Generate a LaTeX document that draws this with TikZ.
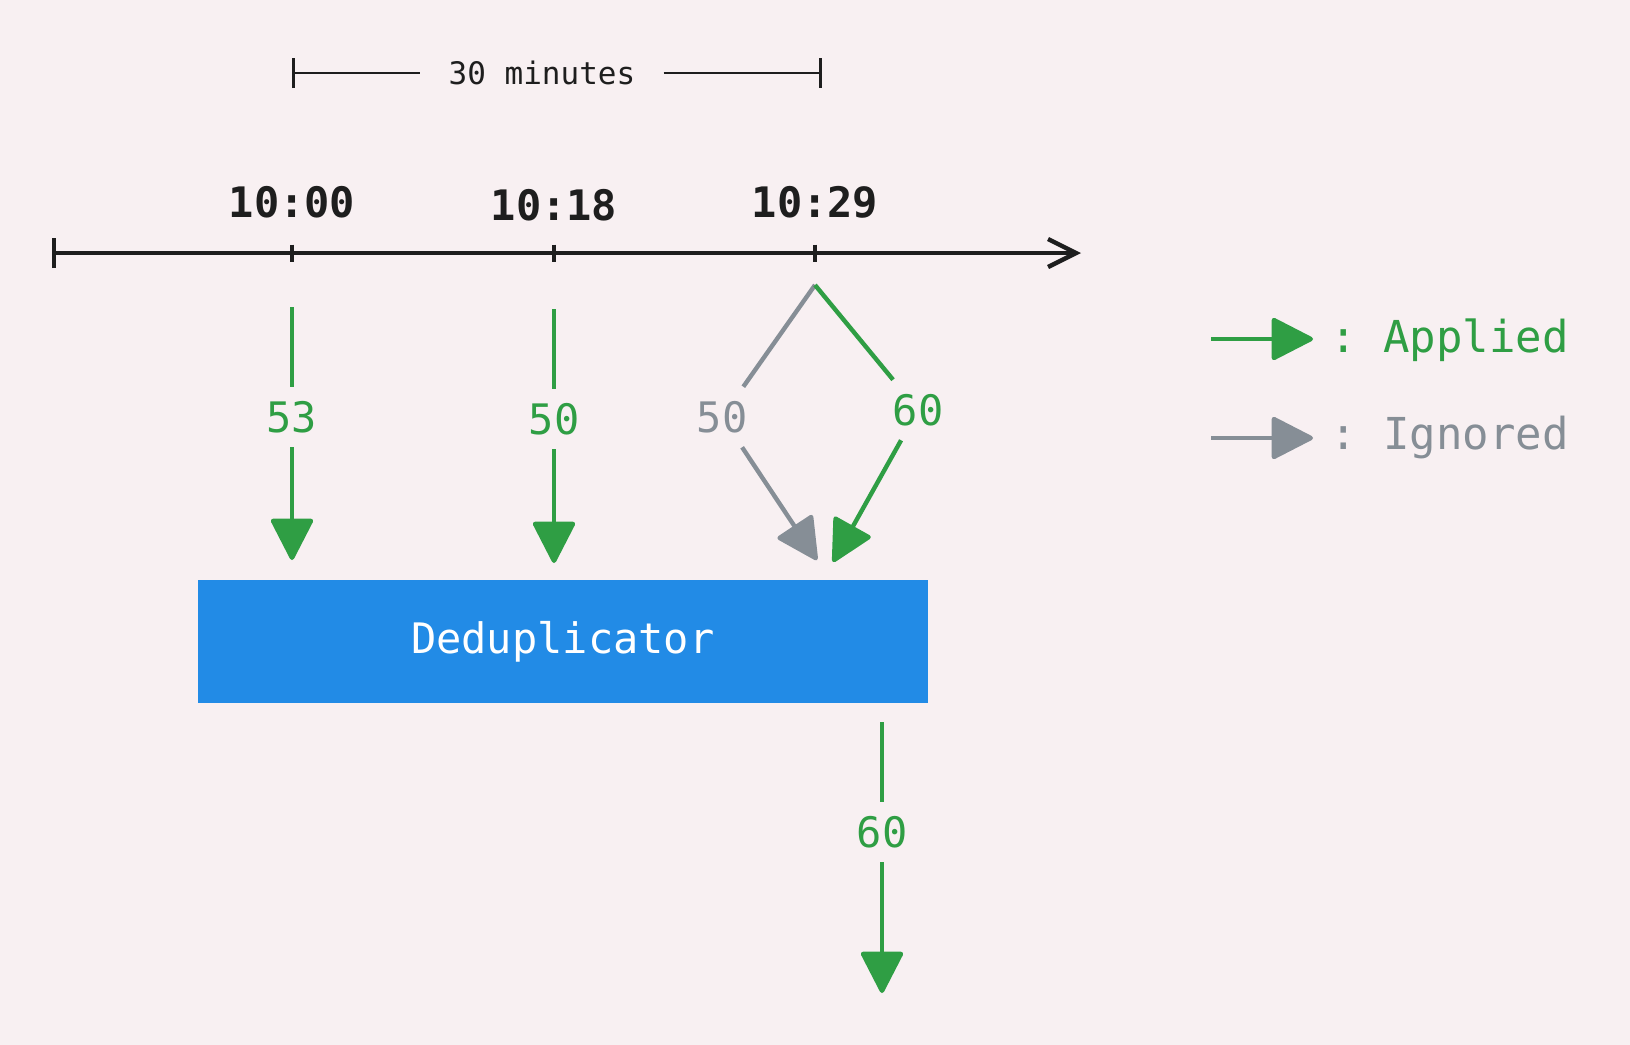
\documentclass[tikz,border=0pt]{standalone}
\usepackage{fontspec}
\setmonofont{DejaVu Sans Mono}
\usetikzlibrary{arrows.meta}

\definecolor{bg}{HTML}{F8F0F2}
\definecolor{okgreen}{HTML}{2F9E44}
\definecolor{skipgray}{HTML}{868E96}
\definecolor{boxblue}{HTML}{228BE6}
\definecolor{ink}{HTML}{1E1E1E}

\begin{document}
\begin{tikzpicture}[x=0.5pt, y=-0.5pt,
    every node/.style={font=\ttfamily\fontsize{21}{25}\selectfont},
    applied/.style={draw=okgreen, line width=2.2pt, -{Triangle[length=22pt, width=22pt, round]}},
    ignored/.style={draw=skipgray, line width=2.2pt, -{Triangle[length=22pt, width=22pt, round]}},
    val/.style={text=okgreen, inner sep=7pt},
    skip/.style={text=skipgray, inner sep=7pt},
    stamp/.style={text=ink, font=\ttfamily\bfseries\fontsize{21}{25}\selectfont}
]
    \fill[bg] (0,0) rectangle (1630,1045);

    % 30 minute window
    \coordinate (b1) at (292,73);
    \coordinate (b2) at (822,73);
    \node[text=ink, font=\ttfamily\fontsize{15.5}{18}\selectfont, inner xsep=14pt] (span) at (542,73) {30 minutes};
    \draw[ink, line width=1.4pt, {Bar[width=15pt]}-] (b1) -- (span);
    \draw[ink, line width=1.4pt, -{Bar[width=15pt]}] (span) -- (b2);

    % timeline
    \coordinate (t0) at (52,253);
    \coordinate (tend) at (1081,253);
    \coordinate (k1) at (292,253);
    \coordinate (k2) at (554,253);
    \coordinate (k3) at (815,253);
    \draw[ink, line width=2.2pt, {Bar[width=15pt]}-{Straight Barb[length=14pt, width=14pt]}] (t0) -- (tend);
    \foreach \k in {k1,k2,k3}
        \draw[ink, line width=1.8pt] ([yshift=4.25pt]\k) -- ([yshift=-4.25pt]\k);

    \node[stamp] (h1) at (292,202) {10:00};
    \node[stamp] (h2) at (554,205) {10:18};
    \node[stamp] (h3) at (815,202) {10:29};

    % events
    \coordinate (s1) at (292,307);
    \node[val] (v1) at (292,417) {53};
    \coordinate (e1) at (292,560);
    \draw[applied] (s1) -- (v1) -- (e1);

    \coordinate (s2) at (554,309);
    \node[val] (v2) at (554,419) {50};
    \coordinate (e2) at (554,563);
    \draw[applied] (s2) -- (v2) -- (e2);

    \coordinate (apex) at (815,285);
    \node[skip] (v3) at (722,417) {50};
    \node[val] (v4) at (918,410) {60};
    \coordinate (e3) at (817,560);
    \coordinate (e4) at (833,562);
    \draw[ignored] (apex) -- (v3) -- (e3);
    \draw[applied] (apex) -- (v4) -- (e4);

    % deduplicator
    \node[fill=boxblue, text=white, minimum width=365pt, minimum height=61.5pt] (dedup) at (562.75,641.5) {Deduplicator};

    \coordinate (s5) at (882,722);
    \node[val] (v5) at (882,832) {60};
    \coordinate (e5) at (882,993);
    \draw[applied] (s5) -- (v5) -- (e5);

    % legend
    \coordinate (la1) at (1211,339);
    \coordinate (la2) at (1313,339);
    \draw[applied] (la1) -- (la2);
    \node[anchor=base west, inner sep=0pt, text=okgreen, font=\ttfamily\fontsize{22}{26}\selectfont] (lapp) at (1330,352) {: Applied};

    \coordinate (li1) at (1211,438);
    \coordinate (li2) at (1313,438);
    \draw[ignored] (li1) -- (li2);
    \node[anchor=base west, inner sep=0pt, text=skipgray, font=\ttfamily\fontsize{22}{26}\selectfont] (lign) at (1330,449) {: Ignored};
\end{tikzpicture}
\end{document}
